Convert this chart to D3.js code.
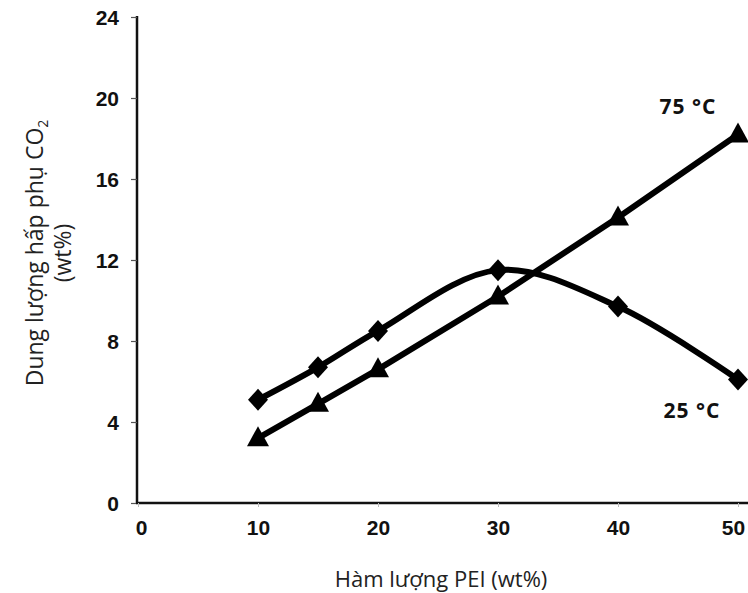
<!DOCTYPE html>
<html><head><meta charset="utf-8">
<script src="https://cdn.jsdelivr.net/npm/d3@7"></script>
<style>body{margin:0;background:#fff;} svg{display:block;}</style>
</head><body>
<svg id="c" width="748" height="593"></svg>
<script>
const pei = [10, 15, 20, 30, 40, 50];
const ads25 = [5.1, 6.7, 8.5, 11.5, 9.7, 6.1];
const ads75 = [3.2, 4.9, 6.6, 10.2, 14.1, 18.2];
const xTicks = [0, 10, 20, 30, 40, 50];
const yTicks = [0, 4, 8, 12, 16, 20, 24];
const label25 = "25 °C";
const label75 = "75 °C";

const svg = d3.select("#c");
const x = d3.scaleLinear().domain([0, 50]).range([138, 738]);
const y = d3.scaleLinear().domain([0, 24]).range([503, 17]);

// axes
const yAxis = d3.axisLeft(y).tickValues(yTicks).tickSize(6).tickPadding(12);
const gy = svg.append("g").attr("transform", "translate(137,0)").call(yAxis);
gy.select(".domain").attr("stroke", "#111").attr("stroke-width", 2.5).attr("d", "M0,16V503");
gy.selectAll(".tick line").attr("stroke", "#555").attr("stroke-width", 1.2);
gy.selectAll(".tick text").attr("font-family", "Liberation Sans, Arial, sans-serif")
  .attr("font-weight", "bold").attr("font-size", 21).attr("fill", "#111").attr("dy", "0.35em");

const xAxis = d3.axisBottom(x).tickValues(xTicks).tickSize(4).tickPadding(12);
const gx = svg.append("g").attr("transform", "translate(0,503)").call(xAxis);
gx.select(".domain").attr("stroke", "#111").attr("stroke-width", 2.5).attr("d", "M136,0H748");
gx.selectAll(".tick line").attr("stroke", "#bbb").attr("stroke-width", 1);
gx.selectAll(".tick text").attr("font-family", "Liberation Sans, Arial, sans-serif")
  .attr("font-weight", "bold").attr("font-size", 21).attr("fill", "#111").attr("dy", "0.75em");
gx.selectAll(".tick").filter(d => d === 0).select("text").attr("dx", 3);
gx.selectAll(".tick").filter(d => d === 50).select("text").attr("dx", -5);

// axis titles
svg.append("text").attr("x", 441).attr("y", 587).attr("text-anchor", "middle")
  .attr("font-family", "Open Sans, Noto Sans, sans-serif").attr("font-size", 22).attr("fill", "#222")
  .text("Hàm lượng PEI (wt%)");
const yt = svg.append("text").attr("transform", "translate(43,253) rotate(-90)").attr("text-anchor", "middle")
  .attr("font-family", "Open Sans, Noto Sans, sans-serif").attr("font-size", 23).attr("fill", "#222");
yt.append("tspan").attr("x", 0).attr("y", 0).text("Dung lượng hấp phụ CO");
yt.append("tspan").attr("font-size", 14).attr("dy", 5).text("2");
yt.append("tspan").attr("x", 0).attr("y", 28).text("(wt%)");

// lines
const d25 = pei.map((p, i) => [p, ads25[i]]);
const d75 = pei.map((p, i) => [p, ads75[i]]);
const line = d3.line().x(d => x(d[0])).y(d => y(d[1]));
svg.append("path").datum(d25).attr("d", line.curve(d3.curveCatmullRom.alpha(0.5)))
  .attr("fill", "none").attr("stroke", "#000").attr("stroke-width", 6).attr("stroke-linejoin", "round");
svg.append("path").datum(d75).attr("d", d3.line().x(d => x(d[0])).y(d => y(d[1])))
  .attr("fill", "none").attr("stroke", "#000").attr("stroke-width", 6).attr("stroke-linejoin", "round");

// markers
svg.selectAll(".dia").data(d25).join("path")
  .attr("transform", d => `translate(${x(d[0])},${y(d[1])})`)
  .attr("d", "M0,-11L10,0L0,11L-10,0Z").attr("fill", "#000");
svg.selectAll(".tri").data(d75).join("path")
  .attr("transform", d => `translate(${x(d[0])},${y(d[1])})`)
  .attr("d", "M0,-12L11,8L-11,8Z").attr("fill", "#000");

// series labels
svg.append("text").attr("x", 688).attr("y", 114).attr("text-anchor", "middle")
  .attr("font-family", "Open Sans, Noto Sans, sans-serif").attr("font-weight", "bold")
  .attr("font-size", 21).attr("fill", "#111").attr("letter-spacing", 1).text(label75);
svg.append("text").attr("x", 692).attr("y", 418).attr("text-anchor", "middle")
  .attr("font-family", "Open Sans, Noto Sans, sans-serif").attr("font-weight", "bold")
  .attr("font-size", 21).attr("fill", "#111").attr("letter-spacing", 1).text(label25);
</script>
</body></html>
